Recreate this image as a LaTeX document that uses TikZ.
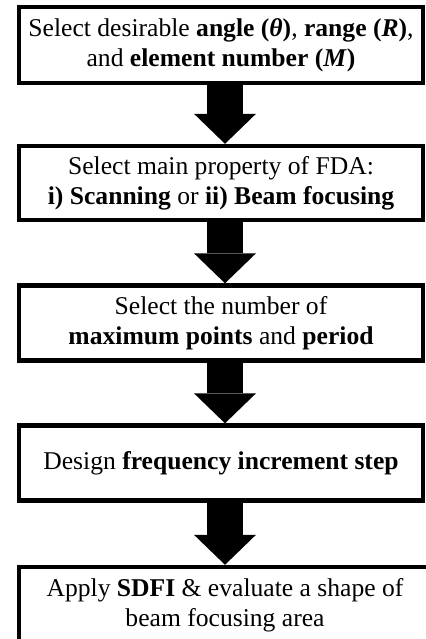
\documentclass[tikz,border=0pt]{standalone}
\usepackage{fontspec}
\setmainfont{Liberation Serif}
\usepackage{tikz}
\usetikzlibrary{positioning,arrows.meta}

\begin{document}
\begin{tikzpicture}[x=0.5pt,y=-0.5pt,font=\fontsize{12.8}{15}\selectfont,
  stepbox/.style={draw,line width=2.2pt,minimum width=202pt,align=center,inner sep=0pt},
  bigarrow/.style={line width=18pt,-{Triangle[width=31pt,length=15pt,line width=0pt]}}]
  % flow of the design steps, top to bottom
  \useasboundingbox (0,0) rectangle (425,639);
  \node[stepbox,minimum height=38pt] (sel) at (221,45)
     {Select desirable \textbf{angle (\textit{θ})}, \textbf{range (\textit{R})},\\and \textbf{element number (\textit{M})}};
  \node[stepbox,minimum height=37pt] (prop) at (221,183)
     {Select main property of FDA:\\\textbf{i) Scanning} or \textbf{ii) Beam focusing}};
  \node[stepbox,minimum height=37.5pt] (num) at (221,323)
     {Select the number of\\\textbf{maximum points} and \textbf{period}};
  \node[stepbox,minimum height=37.5pt] (incr) at (221,463)
     {Design \textbf{frequency increment step}};
  \node[stepbox,minimum height=38pt,minimum width=206pt] (sdfi) at (225,605)
     {Apply \textbf{SDFI} \& evaluate a shape of\\beam focusing area};
  \foreach \a/\b in {sel/prop, prop/num, num/incr, incr/sdfi}
     \draw[bigarrow] ([xshift=2pt]\a.south) -- ([xshift=2pt]\a.south |- \b.north);
\end{tikzpicture}
\end{document}
